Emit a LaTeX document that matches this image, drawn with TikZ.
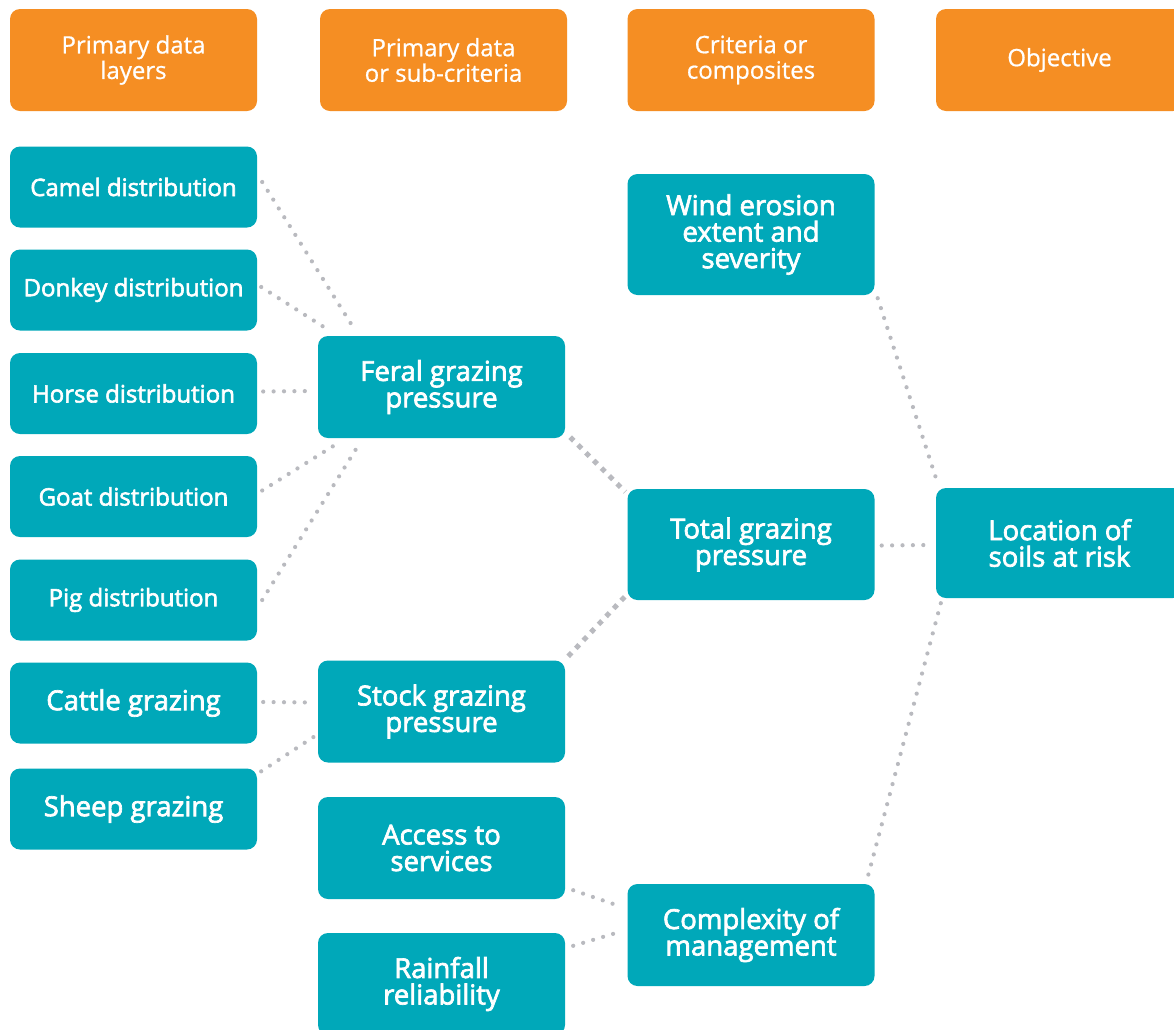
\documentclass[tikz,border=0pt]{standalone}
\usepackage{fontspec}
\setmainfont{Open Sans}
\newfontfamily\hdrfont{Open Sans}[FakeBold=0.8]
\newfontfamily\boxfont{Open Sans}[FakeBold=2.5]
\definecolor{orangeC}{RGB}{245,142,35}
\definecolor{tealC}{RGB}{0,168,185}
\definecolor{dotC}{RGB}{185,186,191}
\begin{document}
\begin{tikzpicture}[x=1pt,y=-1pt,
  hdr/.style={rectangle, rounded corners=10, fill=orangeC, text=white,
    minimum width=247, minimum height=102, align=center, inner sep=0,
    font=\hdrfont\fontsize{24}{25.5}\selectfont},
  box/.style={rectangle, rounded corners=10, fill=tealC, text=white,
    minimum width=247, minimum height=102, align=center, inner sep=0,
    font=\boxfont\fontsize{27.5}{26.5}\selectfont},
  leaf/.style={box, minimum height=81, font=\boxfont\fontsize{24}{26}\selectfont},
  bigleaf/.style={box, minimum height=81},
  link/.style={draw=dotC, line width=4.2, line cap=round, dash pattern=on 0pt off 10.4pt},
  linksq/.style={draw=dotC, line width=5, dash pattern=on 5pt off 6pt},
]
\clip (0,0) rectangle (1174,1029);
\fill[white] (0,0) rectangle (1174,1029);

% column headings
\node[hdr] (h1) at (133.5,60) {Primary data\\layers};
\node[hdr] (h2) at (443.5,60) {Primary data\\or sub-criteria};
\node[hdr] (h3) at (751,60) {Criteria or\\composites};
\node[hdr] (h4) at (1059.5,60) {Objective};

% primary data layers
\node[leaf] (camel) at (133.5,187) {Camel distribution};
\node[leaf] (donkey) at (133.5,290) {Donkey distribution};
\node[leaf] (horse) at (133.5,393.5) {Horse distribution};
\node[leaf] (goat) at (133.5,496.5) {Goat distribution};
\node[leaf] (pig) at (133.5,600) {Pig distribution};
\node[bigleaf] (cattle) at (133.5,703) {Cattle grazing};
\node[bigleaf] (sheep) at (133.5,809) {Sheep grazing};

% sub-criteria
\node[box] (feral) at (441.5,387) {Feral grazing\\pressure};
\node[box] (stock) at (441.5,711.5) {Stock grazing\\pressure};
\node[box] (access) at (441.5,848) {Access to\\services};
\node[box] (rain) at (441.5,984) {Rainfall\\reliability};

% criteria
\node[box, minimum height=121] (wind) at (751,234.5) {Wind erosion\\extent and\\severity};
\node[box, minimum height=111] (total) at (751,544.5) {Total grazing\\pressure};
\node[box] (complex) at (751,935) {Complexity of\\management};

% objective
\node[box, minimum height=110] (loc) at (1059.5,543) {Location of\\soils at risk};

% links between levels
\draw[link] ([shift={(5,-5)}]camel.east) -- ([shift={(37,-6)}]feral.north west);
\draw[link] ([shift={(4,-3)}]donkey.east) -- ([shift={(12,-5)}]feral.north west);
\draw[link] ([shift={(6,-2)}]horse.east) -- ([shift={(-4,4)}]feral.west);
\draw[link] ([shift={(5,-6)}]goat.east) -- ([shift={(20,5)}]feral.south west);
\draw[link] ([shift={(5,0)}]pig.east) -- ([shift={(40,8)}]feral.south west);
\draw[link] ([shift={(6,-1)}]cattle.east) -- ([shift={(-3,-9)}]stock.west);
\draw[link] ([shift={(4,3)}]sheep.north east) -- ([shift={(-2,24)}]stock.west);

\draw[linksq] ([shift={(5,-1)}]feral.south east) -- ([shift={(-2,3)}]total.north west);
\draw[linksq] ([shift={(3,-4)}]stock.north east) -- ([shift={(-2,-4)}]total.south west);
\draw[link] ([shift={(8,-9)}]access.south east) -- ([shift={(-8,-29)}]complex.west);
\draw[link] ([shift={(8,13)}]rain.north east) -- ([shift={(-8,-3)}]complex.west);

\draw[link] ([shift={(3,3)}]wind.south east) -- ([shift={(2,-4)}]loc.north west);
\draw[link] ([shift={(7,1)}]total.east) -- ([shift={(-8,2)}]loc.west);
\draw[link] ([shift={(5,5)}]loc.south west) -- ([shift={(-8,-3)}]complex.north east);
\end{tikzpicture}
\end{document}
